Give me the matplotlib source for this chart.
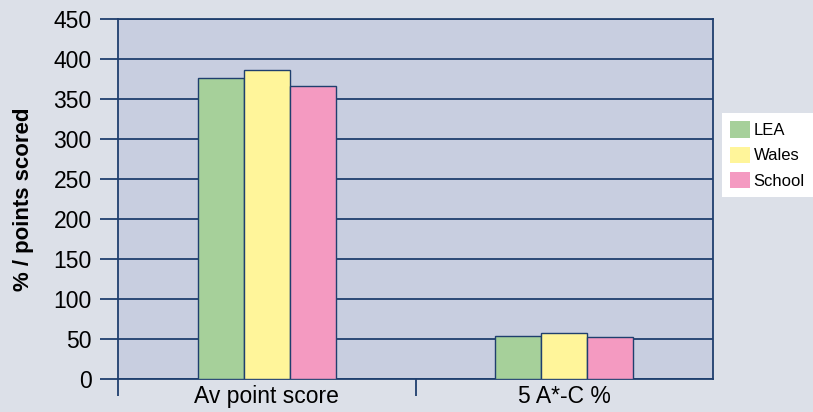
import matplotlib.pyplot as plt
from matplotlib.patches import Patch
import numpy as np

plt.rcParams['font.family'] = ['Liberation Sans', 'DejaVu Sans']

categories = ['Av point score', '5 A*-C %']
series = ['LEA', 'Wales', 'School']
lea = [376, 54]
wales = [386, 58]
school = [366, 53]
yticks = [0, 50, 100, 150, 200, 250, 300, 350, 400, 450]

colors = ['#a6d09a', '#fff59a', '#f49ac1']
navy = '#1f3f6e'
fig_bg = '#dce0e8'
ax_bg = '#c8cee0'

fig = plt.figure(figsize=(8.13, 4.12), dpi=100)
fig.patch.set_facecolor(fig_bg)
ax = fig.add_axes([118 / 813, 1 - 379 / 412, 595 / 813, 360 / 412])
ax.set_facecolor(ax_bg)

x = np.arange(len(categories))
w = 0.155
for i, (vals, c) in enumerate(zip([lea, wales, school], colors)):
    ax.bar(x + (i - 1) * w, vals, w, color=c, edgecolor=navy, linewidth=1.0, zorder=3)

ax.set_xlim(-0.5, 1.5)
ax.set_ylim(0, 450)
ax.set_yticks(yticks)
ax.set_yticklabels([str(t) for t in yticks], fontsize=16.5)
ax.grid(axis='y', color=navy, linewidth=1.3, zorder=1)
ax.set_axisbelow(True)
ax.tick_params(axis='y', length=13, width=1.3, color=navy, pad=6)

ax.set_xticks(x)
ax.set_xticklabels(categories, fontsize=16.5)
ax.tick_params(axis='x', which='major', length=0, pad=4)
ax.set_xticks([-0.5, 0.5], minor=True)
ax.tick_params(axis='x', which='minor', length=12, width=1.3, color=navy)

for s in ax.spines.values():
    s.set_color(navy)
    s.set_linewidth(1.3)

ax.set_ylabel('% / points scored', fontsize=16, fontweight='bold')
ax.yaxis.set_label_coords(-0.142, 0.5)

handles = [Patch(facecolor=c, edgecolor='none') for c in colors]
leg = fig.legend(handles, series, loc='center left', bbox_to_anchor=(722 / 813, 1 - 155 / 412),
                 fontsize=12, frameon=True, fancybox=False, borderpad=0.5,
                 handlelength=1.15, handleheight=1.15, handletextpad=0.25,
                 labelspacing=0.5, borderaxespad=0)
leg.get_frame().set_facecolor('white')
leg.get_frame().set_edgecolor('none')
leg.get_frame().set_alpha(1)

fig.savefig('out.png', dpi=100, facecolor=fig_bg)
